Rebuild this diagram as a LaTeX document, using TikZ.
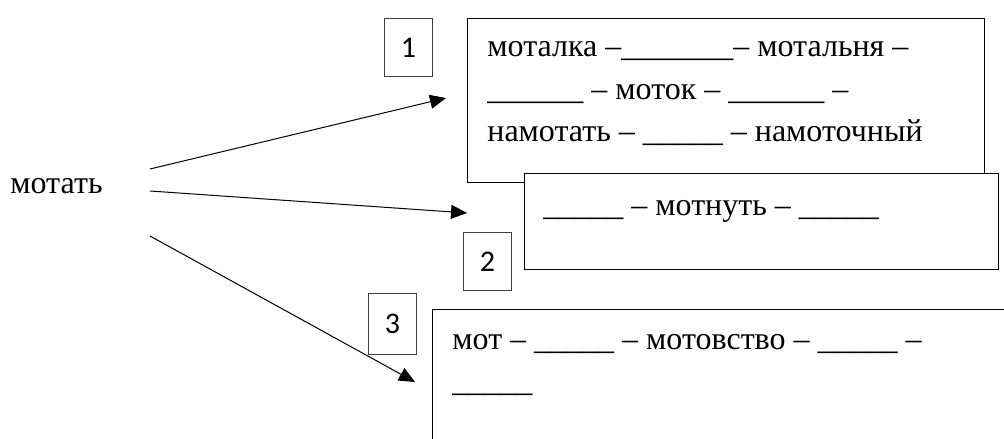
\documentclass[tikz,border=0pt]{standalone}
\usepackage{fontspec}
\setmainfont{Liberation Serif}
\newfontfamily\numfont{Carlito}
\usetikzlibrary{arrows.meta}
\tikzset{
  wordbox/.style={draw=black, fill=white, line width=0.6pt, anchor=north west, inner sep=0pt},
  numbox/.style={draw=black!75, line width=0.5pt, anchor=north west, inner sep=0pt, minimum width=24pt, minimum height=29pt, font=\numfont\fontsize{15}{18}\selectfont},
  txt/.style={anchor=base west, inner sep=0pt, font=\fontsize{16}{19}\selectfont},
  arr/.style={-{Triangle[length=8pt,width=7pt]}, line width=0.5pt}
}

\begin{document}
\begin{tikzpicture}[x=0.5pt, y=-0.5pt]
		\useasboundingbox (0,0) rectangle (1004,438);
		\clip (0,0) rectangle (1004,438);
		% root word
		\node (Root)[txt] at (10,193) {мотать};
		% groups
		\node (Group1)[wordbox, minimum width=258.5pt, minimum height=82pt] at (467,18) {};
		\node (Group2)[wordbox, minimum width=237pt, minimum height=48pt] at (524,173) {};
		\node (Group3)[wordbox, minimum width=320pt, minimum height=120pt] at (432,309) {};
		\node (Num1)[numbox] at (384,18) {1};
		\node (Num2)[numbox] at (463,232) {2};
		\node (Num3)[numbox, minimum height=30.5pt] at (368,293) {3};
		% lines of group 1
		\node (Line1a)[txt] at (487,57) {моталка –\_\_\_\_\_\_\_– мотальня –};
		\node (Line1b)[txt] at (487,100) {\_\_\_\_\_\_ – моток – \_\_\_\_\_\_ –};
		\node (Line1c)[txt] at (487,142) {намотать – \_\_\_\_\_ – намоточный};
		% line of group 2
		\node (Line2a)[txt] at (543,215) {\_\_\_\_\_ – мотнуть – \_\_\_\_\_};
		% lines of group 3
		\node (Line3a)[txt] at (452,349) {мот – \_\_\_\_\_ – мотовство – \_\_\_\_\_ –};
		\node (Line3b)[txt] at (452,391) {\_\_\_\_\_};
		% arrows
		\coordinate (Start1) at (150,169);
		\coordinate (Start2) at (150,191);
		\coordinate (Start3) at (150,236);
		\coordinate (Tip1) at (446,98);
		\coordinate (Tip2) at (467,213);
		\coordinate (Tip3) at (415,382);
		\draw [arr] (Start1) -- (Tip1);
		\draw [arr] (Start2) -- (Tip2);
		\draw [arr] (Start3) -- (Tip3);
	\end{tikzpicture}
\end{document}
